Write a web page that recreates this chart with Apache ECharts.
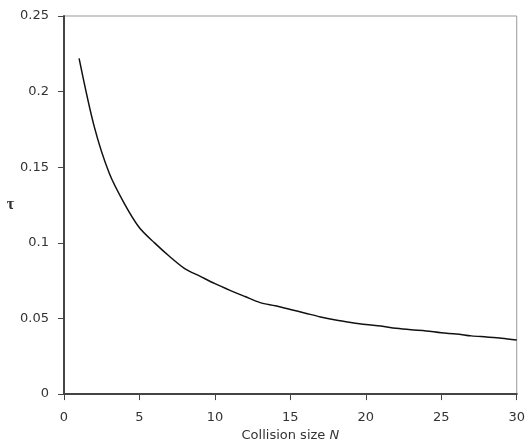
<!DOCTYPE html>
<html>
<head>
<meta charset="utf-8">
<script src="https://cdn.jsdelivr.net/npm/echarts@6/dist/echarts.min.js"></script>
<style>
  html, body { margin: 0; padding: 0; background: #fff; }
  #chart { width: 528px; height: 447px; }
</style>
</head>
<body>
<div id="chart"></div>
<script>
// collision size N
var sizes = [1, 2, 3, 4, 5, 6, 7, 8, 9, 10, 11, 12, 13, 14, 15,
             16, 17, 18, 19, 20, 21, 22, 23, 24, 25, 26, 27, 28, 29, 30];
// tau
var tau = [0.222, 0.177, 0.146, 0.126, 0.110, 0.100, 0.091, 0.083, 0.078, 0.073,
           0.0686, 0.0645, 0.0605, 0.0584, 0.0560, 0.0535, 0.0510, 0.0490, 0.0474, 0.0460,
           0.0450, 0.0435, 0.0425, 0.0418, 0.0405, 0.0398, 0.0385, 0.0378, 0.0370, 0.0358];
var yTicks = ['0', '0.05', '0.1', '0.15', '0.2', '0.25'];

var chart = echarts.init(document.getElementById('chart'));

var points = [];
for (var i = 0; i < sizes.length; i++) {
    points.push([sizes[i], tau[i]]);
}

var labelFont = {
    fontFamily: 'DejaVu Sans',
    fontSize: 13,
    color: '#333'
};

chart.setOption({
    animation: false,
    grid: {
        left: 64,
        right: 7,
        top: 16,
        bottom: 49,
        show: true,
        borderColor: '#999',
        borderWidth: 1
    },
    xAxis: {
        type: 'value',
        min: 0,
        max: 30,
        interval: 5,
        name: 'Collision size {i|N}',
        nameLocation: 'middle',
        nameGap: 32,
        nameTextStyle: {
            fontFamily: 'DejaVu Sans',
            fontSize: 13,
            color: '#333',
            rich: {
                i: { fontStyle: 'italic', fontFamily: 'DejaVu Sans', fontSize: 13, color: '#333' }
            }
        },
        axisLine: { lineStyle: { color: '#444', width: 2 } },
        axisTick: { show: true, length: 6, lineStyle: { color: '#444', width: 1 } },
        axisLabel: Object.assign({ margin: 17 }, labelFont),
        splitLine: { show: false }
    },
    yAxis: {
        type: 'value',
        min: 0,
        max: 0.25,
        interval: 0.05,
        name: 'τ',
        nameLocation: 'middle',
        nameRotate: 0,
        nameGap: 50,
        nameTextStyle: {
            fontFamily: 'Liberation Serif',
            fontSize: 16,
            fontWeight: 'bold',
            color: '#333',
            padding: [6, 0, 0, 0]
        },
        axisLine: { show: true, lineStyle: { color: '#444', width: 2 } },
        axisTick: { show: true, length: 6, lineStyle: { color: '#444', width: 1 } },
        axisLabel: Object.assign({
            margin: 15,
            formatter: function (v) {
                var idx = Math.round(v / 0.05);
                return yTicks[idx] !== undefined ? yTicks[idx] : '';
            }
        }, labelFont),
        splitLine: { show: false }
    },
    series: [{
        type: 'line',
        data: points,
        showSymbol: false,
        smooth: 0.3,
        lineStyle: { color: '#111', width: 1.5 }
    }]
});
</script>
</body>
</html>
